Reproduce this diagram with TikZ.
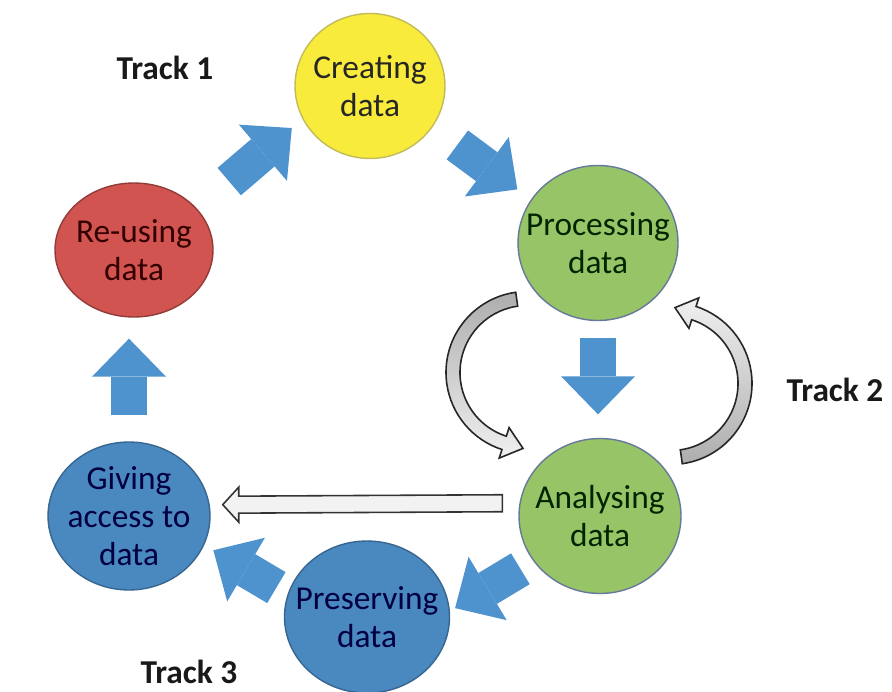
\documentclass[tikz,border=0pt]{standalone}
\usepackage{fontspec}
\setmainfont{Carlito}
\usepackage{tikz}
\usetikzlibrary{shapes.geometric,arrows.meta,calc}

\definecolor{stageyellow}{RGB}{249,235,60}
\definecolor{stagegreen}{RGB}{152,196,104}
\definecolor{stagered}{RGB}{209,84,80}
\definecolor{stageblue}{RGB}{74,136,192}
\definecolor{flowblue}{RGB}{78,146,206}

\tikzset{
  stage/.style={ellipse, inner sep=-14pt, align=center, line width=0.8pt,
    font=\fontsize{19}{21.5}\selectfont},
  yellowstage/.style={stage, fill=stageyellow, draw=stageyellow!55!gray, text=black!85},
  greenstage/.style={stage, fill=stagegreen, draw=stagegreen!60!blue!70!gray, text=green!15!black},
  redstage/.style={stage, fill=stagered, draw=stagered!70!black, text=red!20!black},
  bluestage/.style={stage, fill=stageblue, draw=stageblue!75!black, text=blue!25!black},
  flow/.style={flowblue, line width=0.72cm,
    -{Triangle[width=1.48cm,length=0.76cm,line width=0pt]}},
  loopback/.style={draw=black!85, line width=0.9pt},
  hollow/.style={fill=black!5, draw=black!80, line width=0.9pt},
  track/.style={font=\bfseries\fontsize{19}{22}\selectfont, text=black!90}
}

\begin{document}
\begin{tikzpicture}[x=0.02cm, y=-0.02cm]
\useasboundingbox (0,0) rectangle (892,692);
\fill[white] (0,0) rectangle (892,692);

% stages of the cycle
\node[yellowstage, minimum width=3.0cm, minimum height=2.9cm] (create) at (370,86) {Creating\\data};
\node[greenstage, minimum width=3.2cm, minimum height=3.1cm] (process) at (598,243) {Processing\\data};
\node[greenstage, minimum width=3.24cm, minimum height=3.1cm] (analyse) at (600,516) {Analysing\\data};
\node[bluestage, minimum width=3.3cm, minimum height=3.04cm] (preserve) at (367,617) {Preserving\\data};
\node[bluestage, minimum width=3.24cm, minimum height=2.96cm] (give) at (129,516) {Giving\\access to\\data};
\node[redstage, minimum width=3.16cm, minimum height=2.68cm] (reuse) at (134,250) {Re-using\\data};

\node[track] (track1) at (165,68) {Track 1};
\node[track] (track2) at (835,390) {Track 2};
\node[track] (track3) at (189,672) {Track 3};

% main cycle
\foreach \from/\to/\s/\e in {reuse.33.5/create.206/0.84cm/0.28cm,
    create.327.7/process.147.2/0.61cm/0.34cm,
    analyse.214/preserve.4/0.3cm/0.12cm,
    preserve.164.1/give.339.1/0.26cm/0.21cm}
  \draw[flow, shorten <=\s, shorten >=\e] (\from) -- (\to);
\draw[flow, shorten <=0.33cm, shorten >=0.47cm] (process.south) -- (process.south |- analyse.north);
\draw[flow, shorten <=0.52cm, shorten >=0.42cm] (give.north) -- (give.north |- reuse.south);

% track 2 loop
\coordinate (lc) at ($(process)!0.5!(analyse)+(-72,-7)$);
\coordinate (rc) at ($(process)!0.5!(analyse)+(72,4)$);
\draw[loopback, top color=black!32, bottom color=black!6] ($(lc)+(262:81)$)
  arc[start angle=262, end angle=108, radius=81]
  -- ($(lc)+(108:90)$) -- ($(lc)+(93:76)$) -- ($(lc)+(108:58)$) -- ($(lc)+(108:67)$)
  arc[start angle=108, end angle=262, radius=67] -- cycle;
\draw[loopback, top color=black!6, bottom color=black!32] ($(rc)+(82:81)$)
  arc[start angle=82, end angle=-72, radius=81]
  -- ($(rc)+(-72:90)$) -- ($(rc)+(-87:76)$) -- ($(rc)+(-72:58)$) -- ($(rc)+(-72:67)$)
  arc[start angle=-72, end angle=82, radius=67] -- cycle;

% track 3 shortcut
\coordinate (htail) at ($(analyse.171.5)+(-17,0)$);
\coordinate (htip) at ($(give.8.5)+(13,0)$);
\draw[hollow] ($(htail)+(0,-8.5)$) -- ($(htip)+(16,-8.5)$) -- ($(htip)+(16,-17.5)$) -- (htip)
  -- ($(htip)+(16,17.5)$) -- ($(htip)+(16,8.5)$) -- ($(htail)+(0,8.5)$) -- cycle;
\end{tikzpicture}
\end{document}
